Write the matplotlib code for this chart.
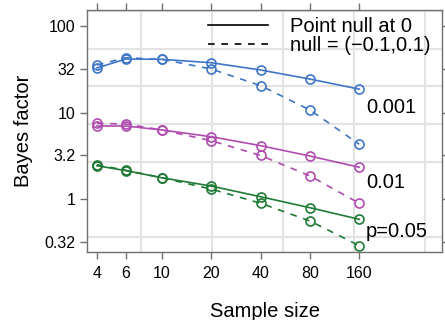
import matplotlib
matplotlib.use('Agg')
import matplotlib.pyplot as plt
from matplotlib.lines import Line2D
from matplotlib.ticker import FixedLocator, NullFormatter
import numpy as np

plt.rcParams['font.family'] = ['Liberation Sans', 'DejaVu Sans']

# sample sizes
n = [4, 6, 10, 20, 40, 80, 160]

# Bayes factors, point null at 0 (solid) and interval null (dashed)
bf001_point = [32.6, 41.4, 41.0, 37.5, 30.9, 24.3, 18.6]
bf001_int = [35.3, 42.8, 41.0, 31.7, 20.4, 10.7, 4.3]
bf01_point = [6.99, 6.99, 6.29, 5.26, 4.15, 3.15, 2.34]
bf01_int = [7.51, 7.37, 6.29, 4.73, 3.20, 1.86, 0.90]
bf05_point = [2.44, 2.14, 1.77, 1.42, 1.07, 0.80, 0.588]
bf05_int = [2.50, 2.16, 1.77, 1.31, 0.90, 0.562, 0.292]

labels = ['0.001', '0.01', 'p=0.05']
label_y = [11.3, 1.58, 0.431]
colors = ['#3f76c8', '#b04cb0', '#1f7a35']

yticks = [0.32, 1, 3.2, 10, 32, 100]

fig = plt.figure(figsize=(4.45, 3.2), dpi=100)
ax = fig.add_axes([0.1955, 0.2125, 0.7978, 0.7563])
ax.set_xscale('log')
ax.set_yscale('log')
ax.set_xlim(3.48, 512)
ax.set_ylim(0.247, 152)

series = [(bf001_point, bf001_int), (bf01_point, bf01_int), (bf05_point, bf05_int)]
for (pt, iv), c, lab, ly in zip(series, colors, labels, label_y):
    ax.plot(n, pt, '-', color=c, lw=1.2, marker='o', mfc='none', mec=c, ms=6.5, mew=1.2)
    ax.plot(n, iv, '--', color=c, lw=1.2, dashes=(4, 4), marker='o', mfc='none', mec=c, ms=6.5, mew=1.2)
    ax.text(176, ly, lab, fontsize=14.5, va='center', ha='left', color='black')

# grid at natural-log steps
ax.xaxis.set_minor_locator(FixedLocator(np.exp(np.arange(1, 7))))
ax.yaxis.set_minor_locator(FixedLocator(np.exp(np.arange(-2, 6))))
ax.xaxis.set_minor_formatter(NullFormatter())
ax.yaxis.set_minor_formatter(NullFormatter())
ax.grid(True, which='minor', color='#e3e3e3', lw=1.5)
ax.grid(False, which='major')
ax.set_axisbelow(True)

ax.set_xticks(n)
ax.set_xticklabels([str(v) for v in n])
ax.set_yticks(yticks)
ax.set_yticklabels(['0.32', '1', '3.2', '10', '32', '100'])
ax.tick_params(which='major', direction='out', length=5, width=1, color='#707070',
               labelsize=11.5, top=True, right=True, pad=3.5)
ax.tick_params(axis='x', which='major', pad=5)
ax.tick_params(which='minor', length=0)
for s in ax.spines.values():
    s.set_color('#707070')
    s.set_linewidth(1)

ax.set_xlabel('Sample size', fontsize=14.5, labelpad=15)
ax.set_ylabel('Bayes factor', fontsize=14.5, labelpad=8)

handles = [Line2D([], [], color='black', lw=1.2, ls='-'),
           Line2D([], [], color='black', lw=1.2, ls='--', dashes=(4, 4))]
ax.legend(handles, ['Point null at 0', 'null = (\u22120.1,0.1)'],
          loc='upper right', bbox_to_anchor=(0.99, 1.005), frameon=False,
          fontsize=14.5, handlelength=2.95, handletextpad=1.1,
          labelspacing=0.0, borderaxespad=0.0)

fig.savefig('out.png', dpi=100)
